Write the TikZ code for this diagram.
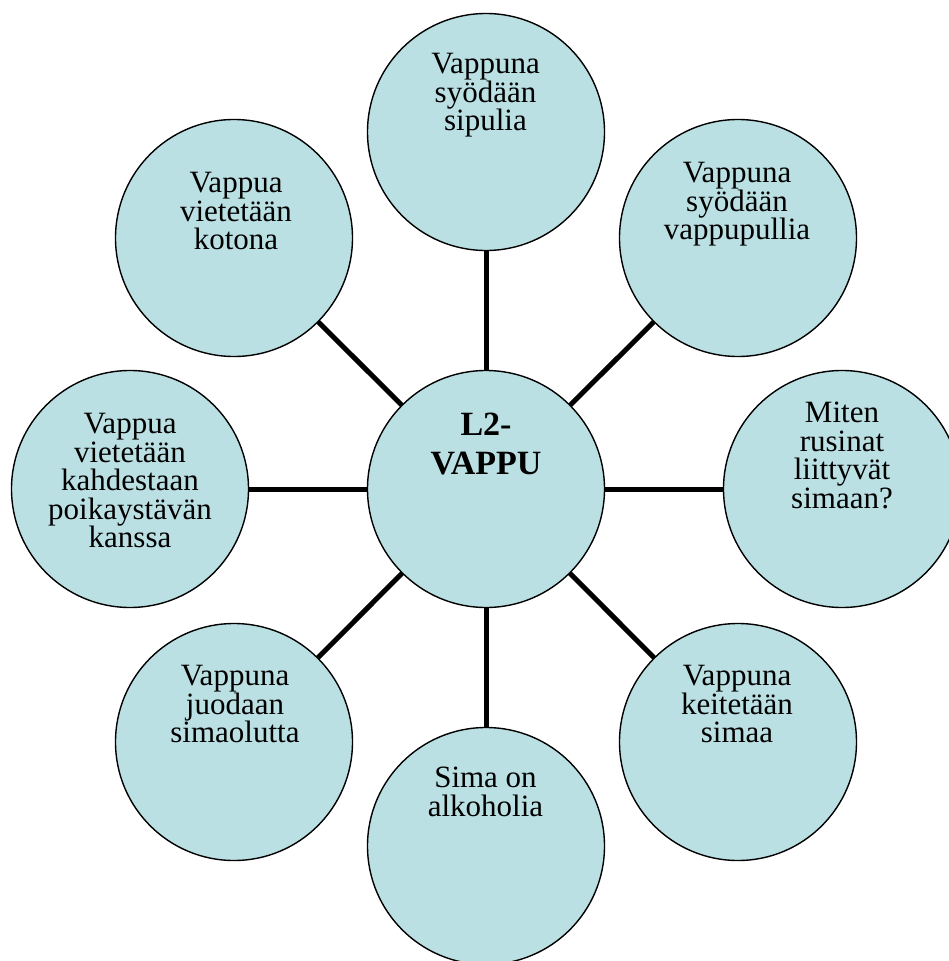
\documentclass[tikz,border=0pt]{standalone}
\usepackage{fontspec}
\setmainfont{Liberation Serif}
\usetikzlibrary{backgrounds}
\definecolor{bubblefill}{RGB}{187,224,227}
\newcommand\bubblefont{\fontsize{31}{28.6}\selectfont\lineskiplimit -20pt\relax\lineskip 0pt\relax}
\tikzset{
  bubble/.style={circle, draw=black, line width=1.4pt, fill=bubblefill,
    minimum size=237pt, inner sep=0pt},
  caption/.style={anchor=north, inner sep=0pt, align=center,
    font=\bubblefont},
  hubcaption/.style={anchor=north, inner sep=0pt, align=center,
    font=\bfseries\fontsize{34}{39}\selectfont},
  spoke/.style={line width=5pt, black}
}
\begin{document}
\begin{tikzpicture}[x=1pt,y=-1pt]
  \useasboundingbox (0,0) rectangle (949,961);

  % circles
  \node[bubble] (hub) at (486,489) {};
  \node[bubble] (n)   at (486,132) {};
  \node[bubble] (ne)  at (738,238) {};
  \node[bubble] (e)   at (842,489) {};
  \node[bubble] (se)  at (738,742) {};
  \node[bubble] (s)   at (486,846) {};
  \node[bubble] (sw)  at (234,742) {};
  \node[bubble] (w)   at (130,489) {};
  \node[bubble] (nw)  at (234,238) {};

  % spokes from the hub, behind the circles
  \begin{scope}[on background layer]
    \foreach \leaf in {n,ne,e,se,s,sw,w,nw}
      \draw[spoke] (hub.center) -- (\leaf.center);
  \end{scope}

  % texts
  \node[hubcaption] (hubt) at (486,413) {L2-\\VAPPU};
  \node[caption] (nt)  at (485.5,53)  {Vappuna\\syödään\\sipulia};
  \node[caption] (net) at (737,162)   {Vappuna\\syödään\\vappupullia};
  \node[caption] (et)  at (842,402)   {Miten\\rusinat\\liittyvät\\simaan?};
  \node[caption] (set) at (737,665)   {Vappuna\\keitetään\\simaa};
  \node[caption] (st)  at (485.5,767) {Sima on\\alkoholia};
  \node[caption] (swt) at (235,665)   {Vappuna\\juodaan\\simaolutta};
  \node[caption] (wt)  at (130,413)   {Vappua\\vietetään\\kahdestaan\\poikaystävän\\kanssa};
  \node[caption] (nwt) at (236,172)   {Vappua\\vietetään\\kotona};
\end{tikzpicture}
\end{document}
